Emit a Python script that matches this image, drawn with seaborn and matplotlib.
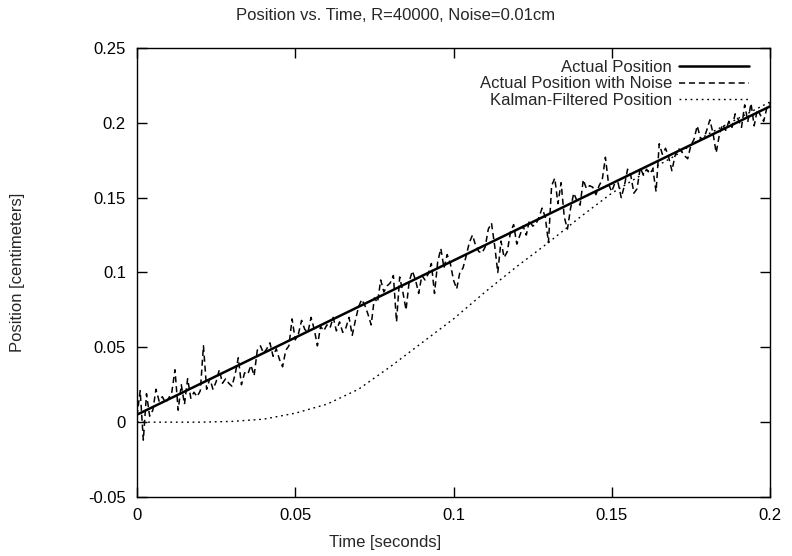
import numpy as np
import pandas as pd
import matplotlib
matplotlib.use("Agg")
import matplotlib.pyplot as plt
import seaborn as sns

# ---- data ----
title = "Position vs. Time, R=40000, Noise=0.01cm"
x_label = "Time [seconds]"
y_label = "Position [centimeters]"
series_names = ["Actual Position", "Actual Position with Noise", "Kalman-Filtered Position"]

actual_t = [0.0, 0.2]
actual_pos = [0.005, 0.211]

noise_dt = 0.001  # sample spacing of the noisy measurement
noisy_pos = [
    0.004, 0.021, -0.012, 0.019, 0.004, 0.008, 0.022, 0.014, 0.017, 0.013,
    0.016, 0.020, 0.035, 0.008, 0.025, 0.012, 0.029, 0.016, 0.020, 0.017,
    0.021, 0.051, 0.022, 0.029, 0.022, 0.027, 0.035, 0.026, 0.029, 0.026,
    0.024, 0.032, 0.043, 0.025, 0.033, 0.032, 0.038, 0.031, 0.048, 0.051,
    0.046, 0.049, 0.053, 0.044, 0.049, 0.042, 0.037, 0.048, 0.051, 0.069,
    0.055, 0.059, 0.068, 0.062, 0.060, 0.070, 0.062, 0.051, 0.064, 0.061,
    0.065, 0.063, 0.070, 0.061, 0.067, 0.060, 0.063, 0.070, 0.058, 0.068,
    0.077, 0.082, 0.078, 0.072, 0.065, 0.083, 0.080, 0.095, 0.087, 0.091,
    0.093, 0.098, 0.067, 0.097, 0.087, 0.075, 0.094, 0.101, 0.095, 0.086,
    0.098, 0.095, 0.099, 0.106, 0.086, 0.107, 0.116, 0.103, 0.112, 0.106,
    0.095, 0.089, 0.100, 0.103, 0.111, 0.120, 0.125, 0.118, 0.114, 0.113,
    0.117, 0.129, 0.133, 0.118, 0.100, 0.121, 0.110, 0.114, 0.127, 0.132,
    0.119, 0.125, 0.131, 0.125, 0.135, 0.131, 0.132, 0.137, 0.143, 0.137,
    0.120, 0.158, 0.163, 0.146, 0.160, 0.137, 0.129, 0.143, 0.153, 0.148,
    0.145, 0.162, 0.156, 0.158, 0.157, 0.152, 0.158, 0.162, 0.177, 0.159,
    0.154, 0.160, 0.160, 0.150, 0.158, 0.169, 0.165, 0.153, 0.156, 0.170,
    0.165, 0.169, 0.166, 0.169, 0.154, 0.186, 0.179, 0.183, 0.177, 0.168,
    0.178, 0.183, 0.181, 0.178, 0.176, 0.185, 0.189, 0.198, 0.190, 0.189,
    0.195, 0.202, 0.193, 0.180, 0.192, 0.199, 0.195, 0.201, 0.197, 0.206,
    0.202, 0.197, 0.212, 0.201, 0.213, 0.198, 0.209, 0.205, 0.201, 0.210,
    0.213,
]

kalman_t = [0.0, 0.02, 0.03, 0.04, 0.05, 0.06, 0.07, 0.08, 0.09, 0.10,
            0.11, 0.12, 0.13, 0.14, 0.15, 0.16, 0.17, 0.18, 0.19, 0.20]
kalman_pos = [0.0, 0.0, 0.0005, 0.002, 0.006, 0.012, 0.022, 0.037, 0.053, 0.069,
              0.087, 0.104, 0.120, 0.137, 0.153, 0.166, 0.178, 0.192, 0.203, 0.214]

x_ticks = [0.0, 0.05, 0.1, 0.15, 0.2]
x_tick_labels = ["0", "0.05", "0.1", "0.15", "0.2"]
y_ticks = [-0.05, 0.0, 0.05, 0.1, 0.15, 0.2, 0.25]
y_tick_labels = ["-0.05", "0", "0.05", "0.1", "0.15", "0.2", "0.25"]

# ---- frames ----
noisy_t = np.arange(len(noisy_pos)) * noise_dt
df_actual = pd.DataFrame({"t": actual_t, "pos": actual_pos})
df_noisy = pd.DataFrame({"t": noisy_t, "pos": noisy_pos})
df_kalman = pd.DataFrame({"t": kalman_t, "pos": kalman_pos})

sns.set_theme(style="ticks")
plt.rcParams["font.family"] = ["Liberation Sans", "DejaVu Sans"]

W, H = 792, 556
fig = plt.figure(figsize=(W / 100, H / 100), dpi=100)
ax = fig.add_axes([137 / W, 1 - 497 / H, (770 - 137) / W, (497 - 48) / H])

sns.lineplot(data=df_actual, x="t", y="pos", ax=ax, color="black", lw=1.8,
             label=series_names[0], estimator=None, sort=False)
sns.lineplot(data=df_noisy, x="t", y="pos", ax=ax, color="black", lw=1.1,
             label=series_names[1], estimator=None, sort=False)
sns.lineplot(data=df_kalman, x="t", y="pos", ax=ax, color="black", lw=1.0,
             label=series_names[2], estimator=None, sort=False)

lines = ax.get_lines()
lines[1].set_dashes([4, 2.5])
lines[2].set_dashes([1.3, 2.7])

ax.set_xlim(0, 0.2)
ax.set_ylim(-0.05, 0.25)
ax.set_xticks(x_ticks)
ax.set_xticklabels(x_tick_labels)
ax.set_yticks(y_ticks)
ax.set_yticklabels(y_tick_labels)
ax.tick_params(direction="in", length=7, width=1, top=True, right=True,
               labelsize=12, colors="black", pad=8)
for s in ax.spines.values():
    s.set_visible(True)
    s.set_linewidth(1.0)
    s.set_color("black")

ax.set_xlabel("")
ax.set_ylabel("")
fig.text(396 / W, 1 - 16 / H, title, fontsize=12, ha="center", va="center")
fig.text(385 / W, 1 - 543 / H, x_label, fontsize=12, ha="center", va="center")
fig.text(18 / W, 1 - 272 / H, y_label, fontsize=12, ha="center", va="center",
         rotation=90)

handles, labels = ax.get_legend_handles_labels()
leg = ax.legend(handles, labels, loc="upper right", frameon=False,
                markerfirst=False, fontsize=12, handlelength=4.2,
                handletextpad=0.4, labelspacing=0.1,
                borderaxespad=0.3, bbox_to_anchor=(0.985, 1.0))

fig.savefig("out.png", dpi=100)
